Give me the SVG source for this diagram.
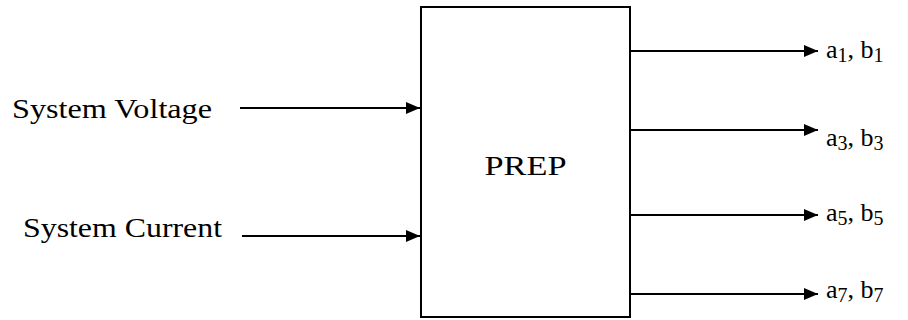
<svg xmlns="http://www.w3.org/2000/svg" width="908" height="320" viewBox="0 0 908 320">
  <style>
    .t { font-family: "Liberation Serif", "Times New Roman", serif; fill: #000; }
    .lbl { font-size: 28px; }
    .out { font-size: 26px; }
    .sub { font-size: 20px; }
    .wire { stroke: #000; stroke-width: 2; fill: none; marker-end: url(#head); }
  </style>
  <defs>
    <marker id="head" viewBox="0 0 14 12" refX="14" refY="6" markerWidth="14" markerHeight="12" markerUnits="userSpaceOnUse" orient="auto">
      <path d="M0,0 L14,6 L0,12 Z" fill="#000"/>
    </marker>
  </defs>

  <rect width="908" height="320" fill="#fff"/>

  <!-- processing block -->
  <g id="prep">
    <rect x="421" y="7" width="209" height="310" fill="#fff" stroke="#000" stroke-width="2"/>
    <text class="t lbl" x="525.5" y="175" text-anchor="middle" textLength="82" lengthAdjust="spacingAndGlyphs">PREP</text>
  </g>

  <!-- inputs -->
  <g id="in-voltage">
    <text class="t lbl" x="12" y="118" textLength="200" lengthAdjust="spacingAndGlyphs">System Voltage</text>
  </g>
  <g id="in-current">
    <text class="t lbl" x="23" y="237" textLength="199" lengthAdjust="spacingAndGlyphs">System Current</text>
  </g>

  <!-- outputs -->
  <g id="out-1">
    <text class="t out" x="826" y="58">a<tspan class="sub" dy="4">1</tspan><tspan dy="-4">, b</tspan><tspan class="sub" dy="4">1</tspan></text>
  </g>
  <g id="out-3">
    <text class="t out" x="826" y="146">a<tspan class="sub" dy="4">3</tspan><tspan dy="-4">, b</tspan><tspan class="sub" dy="4">3</tspan></text>
  </g>
  <g id="out-5">
    <text class="t out" x="826" y="221">a<tspan class="sub" dy="4">5</tspan><tspan dy="-4">, b</tspan><tspan class="sub" dy="4">5</tspan></text>
  </g>
  <g id="out-7">
    <text class="t out" x="826" y="298">a<tspan class="sub" dy="4">7</tspan><tspan dy="-4">, b</tspan><tspan class="sub" dy="4">7</tspan></text>
  </g>

  <!-- connectors -->
  <g id="connectors">
    <line class="wire" x1="240" y1="108" x2="420" y2="108"/>
    <line class="wire" x1="242" y1="236" x2="420" y2="236"/>
    <line class="wire" x1="631" y1="51" x2="818" y2="51"/>
    <line class="wire" x1="631" y1="130" x2="818" y2="130"/>
    <line class="wire" x1="631" y1="215" x2="818" y2="215"/>
    <line class="wire" x1="631" y1="294" x2="818" y2="294"/>
  </g>
</svg>
